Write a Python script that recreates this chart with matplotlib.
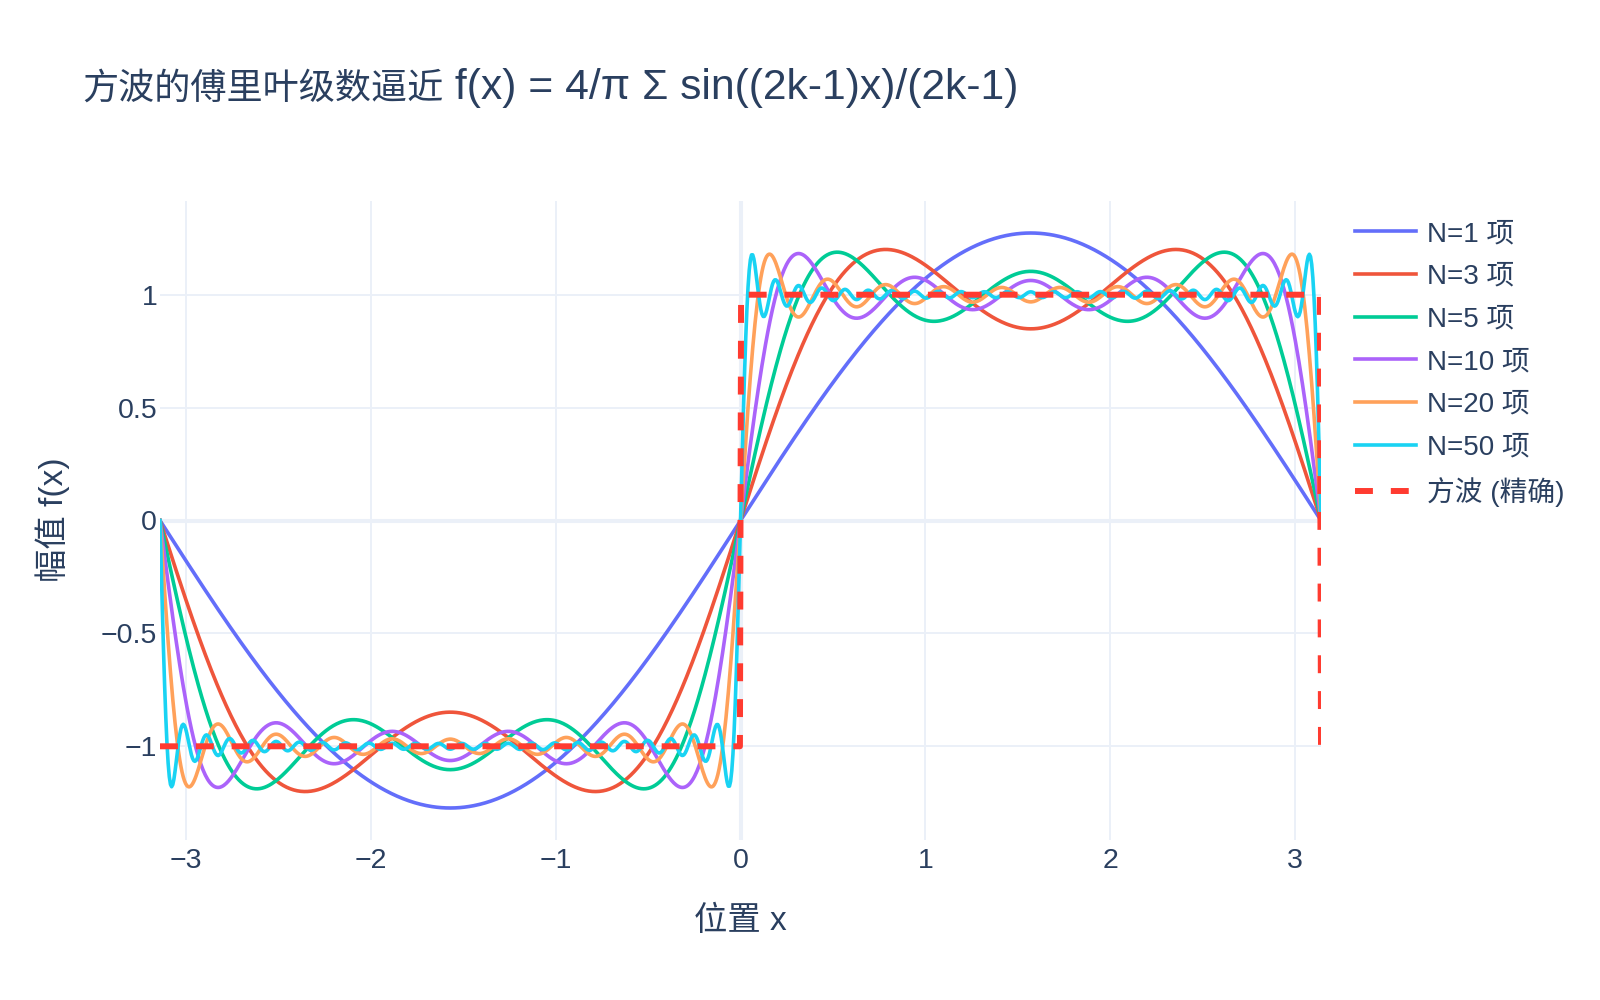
import numpy as np
import matplotlib
matplotlib.use("Agg")
import matplotlib.pyplot as plt

plt.rcParams['font.family'] = ['Liberation Sans', 'Noto Sans CJK SC', 'DejaVu Sans']
plt.rcParams['axes.unicode_minus'] = True

# ---- data ----
title_cjk = "方波的傅里叶级数逼近"
title_formula = " f(x) = 4/π Σ sin((2k-1)x)/(2k-1)"
x_label = "位置 x"
y_label = "幅值 f(x)"
n_max_harmonic = [1, 3, 5, 10, 20, 50]   # odd harmonics up to N
series_labels = ["N=1 项", "N=3 项", "N=5 项", "N=10 项", "N=20 项", "N=50 项"]
square_label = "方波 (精确)"
series_colors = ["#636EFA", "#EF553B", "#00CC96", "#AB63FA", "#FFA15A", "#19D3F3"]
square_color = "#FF3B30"
x_ticks = [-3, -2, -1, 0, 1, 2, 3]
y_ticks = [-1, -0.5, 0, 0.5, 1]
y_tick_labels = ["−1", "−0.5", "0", "0.5", "1"]
x_tick_labels = ["−3", "−2", "−1", "0", "1", "2", "3"]
n_samples = 1000

x = np.linspace(-np.pi, np.pi, n_samples)


def partial_sum(xv, n):
    h = np.arange(1, n + 1, 2)
    return 4 / np.pi * np.sum(np.sin(np.outer(xv, h)) / h, axis=1)


square = np.where(np.mod(x, 2 * np.pi) < np.pi, 1.0, -1.0)

# ---- figure ----
W, H = 1600, 1000
fig = plt.figure(figsize=(16, 10), dpi=100)
left, right, bottom, top = 160, 1321, 840, 201
ax = fig.add_axes([left / W, 1 - bottom / H, (right - left) / W, (bottom - top) / H])

text_color = "#2a3f5f"
grid_color = "#EBF0F8"

for n, lab, col in zip(n_max_harmonic, series_labels, series_colors):
    ax.plot(x, partial_sum(x, n), color=col, lw=2.6, label=lab, zorder=3,
            solid_joinstyle='round')
ax.plot(x, square, color=square_color, lw=4.3, dashes=(3, 3), label=square_label,
        zorder=4)

ax.set_xlim(-np.pi, np.pi)
ax.set_ylim(-1.415, 1.415)
ax.set_xticks(x_ticks)
ax.set_xticklabels(x_tick_labels)
ax.set_yticks(y_ticks)
ax.set_yticklabels(y_tick_labels)
ax.tick_params(length=0, labelsize=20.5, colors=text_color)
ax.tick_params(axis='x', pad=6)
ax.tick_params(axis='y', pad=2)
for s in ax.spines.values():
    s.set_visible(False)
ax.grid(True, color=grid_color, lw=1.44, zorder=0)
ax.set_axisbelow(True)
ax.axhline(0, color=grid_color, lw=2.9, zorder=1)
ax.axvline(0, color=grid_color, lw=2.9, zorder=1)

# title: Chinese part and formula part
t1 = fig.text(82 / W, 1 - 99 / H, title_cjk, fontsize=26, color=text_color,
              ha='left', va='baseline')
renderer = fig.canvas.get_renderer()
bb = t1.get_window_extent(renderer=renderer)
fig.text(bb.x1 / W, 1 - 99 / H, title_formula, fontsize=30.7, color=text_color,
         ha='left', va='baseline')

fig.text((left + right) / 2 / W, 1 - 921 / H, x_label, fontsize=24,
         color=text_color, ha='center', va='center')
fig.text(53 / W, 1 - 520 / H, y_label, fontsize=24, color=text_color,
         ha='center', va='center', rotation=90)

leg = ax.legend(loc='upper left', bbox_to_anchor=(1355 / W, 1 - 221 / H),
                bbox_transform=fig.transFigure, frameon=False, fontsize=20,
                handlelength=2.2, handletextpad=0.4, labelspacing=0.6,
                borderaxespad=0, borderpad=0)
for t in leg.get_texts():
    t.set_color(text_color)

fig.savefig("out.png", dpi=100, facecolor="white")
